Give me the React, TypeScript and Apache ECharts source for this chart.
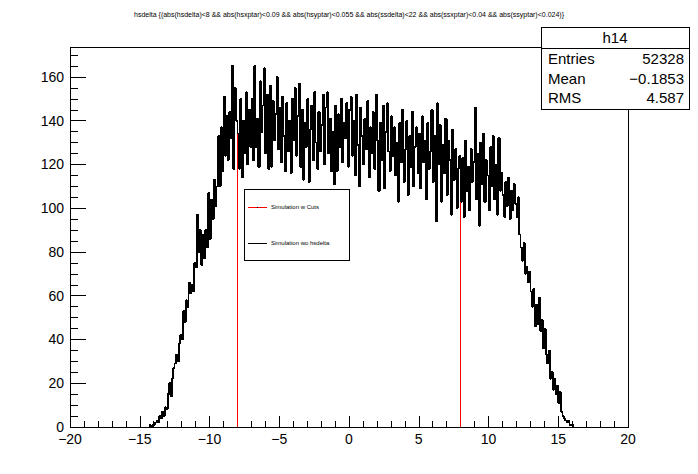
import React, { useEffect, useRef } from "react";
import * as echarts from "echarts";

// Histogram "hsdelta", bin width 0.1, first bin starts at -14.3
const binStart = -14.3;
const binWidth = 0.1;
const counts: number[] = [
  1, 0, 1,
  1, 2, 3, 2, 5, 4, 7, 5, 9, 8,
  15, 20, 14, 22, 27, 29, 33, 30, 38, 42,
  40, 53, 48, 58, 55, 66, 61, 65, 62, 75,
  73, 97, 80, 90, 74, 88, 77, 90, 82, 107,
  86, 104, 95, 113, 101, 110, 133, 110, 137, 117,
  151, 124, 142, 122, 144, 132, 165, 118, 155, 140,
  134, 118, 150, 114, 140, 125, 153, 120, 145, 128,
  150, 122, 165, 128, 141, 119, 158, 135, 147, 164,
  125, 152, 118, 156, 119, 149, 131, 143, 160, 127,
  146, 121, 151, 133, 117, 148, 126, 140, 116, 150,
  131, 155, 124, 142, 157, 119, 145, 113, 139, 128,
  150, 112, 136, 147, 122, 153, 130, 118, 144, 126,
  138, 152, 120, 146, 153, 125, 141, 117, 135, 111,
  147, 117, 143, 128, 150, 121, 139, 132, 148, 119,
  145, 151, 124, 140, 115, 152, 129, 110, 146, 133,
  120, 141, 127, 149, 114, 137, 125, 144, 118, 152,
  131, 108, 139, 122, 147, 109, 135, 148, 126, 117,
  142, 124, 137, 115, 130, 103, 139, 121, 145, 112,
  127, 140, 106, 133, 119, 144, 110, 128, 137, 116,
  134, 109, 142, 121, 131, 104, 139, 118, 126, 145,
  112, 133, 94, 148, 120, 138, 103, 129, 116, 141,
  106, 131, 122, 97, 136, 113, 127, 100, 118, 124,
  103, 123, 96, 131, 108, 119, 99, 127, 112, 121,
  146, 104, 125, 92, 130, 111, 134, 103, 122, 115,
  99, 128, 110, 133, 104, 120, 97, 132, 108, 116,
  106, 96, 112, 101, 114, 95, 108, 99, 111, 102,
  96, 105, 88, 82, 76, 84, 70, 73, 66, 71,
  62, 55, 63, 46, 56, 47, 59, 44, 49, 36,
  45, 33, 29, 35, 22, 25, 17, 22, 15, 19,
  11, 16, 7, 5, 4, 3, 2, 3, 1, 1,
  1,
];

// cut window for the red histogram (its edges are the only visible part)
const cutLow = -8;
const cutHigh = 8;

const xTicks = { min: -20, max: 20, interval: 5 };
const yTicks = { min: 0, max: 173.7, interval: 20 };

const titleText =
  "hsdelta {(abs(hsdelta)<8 && abs(hsxptar)<0.09 && abs(hsyptar)<0.055 && abs(ssdelta)<22 && abs(ssxptar)<0.04 && abs(ssyptar)<0.024)}";
const statsName = "h14";
const statsLabels = ["Entries", "Mean", "RMS"];
const statsValues = ["52328", "\u22120.1853", "4.587"];
const legendLabels = ["Simulation w Cuts", "Simulation wo hsdelta"];

function binIndex(x: number): number {
  return Math.round((x - binStart) / binWidth);
}

function stepData(): number[][] {
  const pts: number[][] = [];
  pts.push([binStart, 0]);
  for (let i = 0; i < counts.length; i++) {
    const x = +(binStart + i * binWidth).toFixed(4);
    pts.push([x, counts[i]]);
  }
  const lastEdge = +(binStart + counts.length * binWidth).toFixed(4);
  pts.push([lastEdge, counts[counts.length - 1]]);
  pts.push([lastEdge, 0]);
  return pts;
}

const FONT = "Liberation Sans";
const RED = "#ff0000";

export default function App() {
  const ref = useRef<HTMLDivElement>(null);
  useEffect(() => {
    if (!ref.current) return;
    const chart = echarts.init(ref.current, null, { renderer: "svg" });
    const fullData = stepData();
    const leftTop = Math.min(counts[binIndex(cutLow)], counts[binIndex(cutLow) - 1]);
    const rightTop = Math.min(counts[binIndex(cutHigh)], counts[binIndex(cutHigh) - 1]);
    const redLeft = [
      [cutLow, 0],
      [cutLow, leftTop],
    ];
    const redRight = [
      [cutHigh, 0],
      [cutHigh, rightTop],
    ];
    const statRows = statsLabels
      .map((l, i) => [
        {
          type: "text",
          left: 548,
          top: 51 + i * 19.5,
          style: { text: l, fontSize: 15, fontFamily: FONT, fill: "#000" },
        },
        {
          type: "text",
          right: 698 - 684,
          top: 51 + i * 19.5,
          style: { text: statsValues[i], fontSize: 15, fontFamily: FONT, fill: "#000", textAlign: "right" },
        },
      ])
      .flat();
    chart.setOption({
      animation: false,
      backgroundColor: "#fff",
      grid: {
        left: 70,
        right: 70,
        top: 47,
        bottom: 47,
        show: true,
        borderColor: "#000",
        borderWidth: 1,
        backgroundColor: "transparent",
      },
      xAxis: {
        type: "value",
        min: xTicks.min,
        max: xTicks.max,
        interval: xTicks.interval,
        axisLine: { show: true, onZero: false, lineStyle: { color: "#000", width: 1 } },
        axisTick: { show: true, inside: true, length: 11, lineStyle: { color: "#000" } },
        minorTick: { show: true, splitNumber: 5, length: 6, lineStyle: { color: "#000" } },
        splitLine: { show: false },
        axisLabel: {
          color: "#000",
          fontSize: 14,
          fontFamily: FONT,
          margin: 5,
          formatter: (v: number) => String(v).replace("-", "\u2212"),
        },
      },
      yAxis: {
        type: "value",
        min: yTicks.min,
        max: yTicks.max,
        interval: yTicks.interval,
        axisLine: { show: true, onZero: false, lineStyle: { color: "#000", width: 1 } },
        axisTick: { show: true, inside: true, length: 16, lineStyle: { color: "#000" } },
        minorTick: { show: true, splitNumber: 4, length: 8, lineStyle: { color: "#000" } },
        splitLine: { show: false },
        axisLabel: {
          color: "#000",
          fontSize: 14,
          fontFamily: FONT,
          margin: 6,
          showMaxLabel: false,
        },
      },
      series: [
        {
          type: "line",
          step: "end",
          data: fullData,
          showSymbol: false,
          color: "#000",
          lineStyle: { color: "#000", width: 1.7 },
          z: 3,
        },
        {
          name: "cutLeft",
          type: "line",
          data: redLeft,
          showSymbol: false,
          color: RED,
          lineStyle: { color: RED, width: 1 },
          z: 5,
        },
        {
          name: "cutRight",
          type: "line",
          data: redRight,
          showSymbol: false,
          color: RED,
          lineStyle: { color: RED, width: 1 },
          z: 5,
        },
      ],
      graphic: [
        {
          type: "text",
          left: "center",
          top: 11,
          style: { text: titleText, fontSize: 7, fontFamily: FONT, fill: "#000" },
          z: 100,
        },
        {
          type: "rect",
          shape: { x: 541.5, y: 27.5, width: 148, height: 82 },
          style: { fill: "#fff", stroke: "#000", lineWidth: 1 },
          z: 100,
        },
        {
          type: "line",
          shape: { x1: 541.5, y1: 48.5, x2: 689.5, y2: 48.5 },
          style: { stroke: "#000", lineWidth: 1 },
          z: 101,
        },
        {
          type: "text",
          x: 615,
          y: 30,
          style: { text: statsName, fontSize: 15, fontFamily: FONT, fill: "#000", textAlign: "center" },
          z: 101,
        },
        ...statRows.map((e: any) => ({ ...e, z: 101 })),
        {
          type: "rect",
          shape: { x: 244.5, y: 189.5, width: 105, height: 71 },
          style: { fill: "#fff", stroke: "#000", lineWidth: 1 },
          z: 100,
        },
        {
          type: "line",
          shape: { x1: 248, y1: 207.5, x2: 267, y2: 207.5 },
          style: { stroke: RED, lineWidth: 1 },
          z: 101,
        },
        {
          type: "rect",
          shape: { x: 257, y: 207, width: 1, height: 1 },
          style: { fill: "#000" },
          z: 102,
        },
        {
          type: "text",
          x: 271,
          y: 204,
          style: { text: legendLabels[0], fontSize: 6, fontFamily: FONT, fill: "#000" },
          z: 101,
        },
        {
          type: "line",
          shape: { x1: 248, y1: 243.5, x2: 267, y2: 243.5 },
          style: { stroke: "#000", lineWidth: 1 },
          z: 101,
        },
        {
          type: "text",
          x: 271,
          y: 240,
          style: { text: legendLabels[1], fontSize: 6, fontFamily: FONT, fill: "#000" },
          z: 101,
        },
      ],
    });
    return () => chart.dispose();
  }, []);
  return (
    <>
      <style>{"svg path { shape-rendering: crispEdges; }"}</style>
      <div
        ref={ref}
        style={{ position: "fixed", left: 0, top: 0, width: 698, height: 474, background: "#fff" }}
      />
    </>
  );
}
